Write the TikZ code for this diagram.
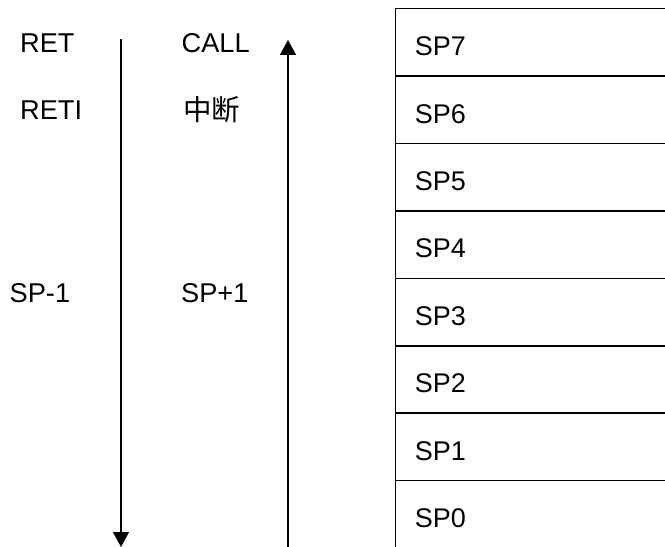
\documentclass[tikz,border=0pt]{standalone}
\usepackage{fontspec}
\setmainfont{Liberation Sans}
\newfontfamily\cjk{Noto Sans CJK SC}
\usetikzlibrary{arrows.meta}
\tikzset{
  lbl/.style={anchor=base west, inner sep=0pt, font=\fontsize{27.2bp}{31bp}\selectfont},
  rowbox/.style={draw, line width=1.5bp, anchor=north west, minimum height=67.4bp,
    text width=300bp, inner xsep=19.5bp, inner ysep=0pt, align=left,
    text height=26.5bp, text depth=0bp, font=\fontsize{27bp}{31bp}\selectfont},
  arr/.style={line width=1.3bp, -{Triangle[width=16bp,length=15bp]}}
}
\begin{document}
\begin{tikzpicture}[x=1bp,y=-1bp]
\useasboundingbox (0,0) rectangle (665,547);
\clip (0,0) rectangle (665,547);
% stack rows
\node[rowbox] (r7) at (394.5,8.0) {SP7};
\node[rowbox] (r6) at (394.5,75.4) {SP6};
\node[rowbox] (r5) at (394.5,142.8) {SP5};
\node[rowbox] (r4) at (394.5,210.2) {SP4};
\node[rowbox] (r3) at (394.5,277.6) {SP3};
\node[rowbox] (r2) at (394.5,345.0) {SP2};
\node[rowbox] (r1) at (394.5,412.4) {SP1};
\node[rowbox] (r0) at (394.5,479.8) {SP0};
% labels
\node[lbl] (ret) at (20,53) {RET};
\node[lbl] (reti) at (20,120) {RETI};
\node[lbl] (spm) at (9.5,302) {SP-1};
\node[lbl] (call) at (181.5,53) {CALL};
\node[lbl, font=\fontsize{28.5bp}{32bp}\selectfont] (intr) at (183,120.5) {\cjk 中断};
\node[lbl] (spp) at (181,302) {SP+1};
% arrows
\coordinate (dtop) at (121,39);
\coordinate (dbot) at (121,547);
\coordinate (ubot) at (288,548);
\coordinate (utop) at (288,40);
\draw[arr] (dtop) -- (dbot);
\draw[arr] (ubot) -- (utop);
\end{tikzpicture}
\end{document}
